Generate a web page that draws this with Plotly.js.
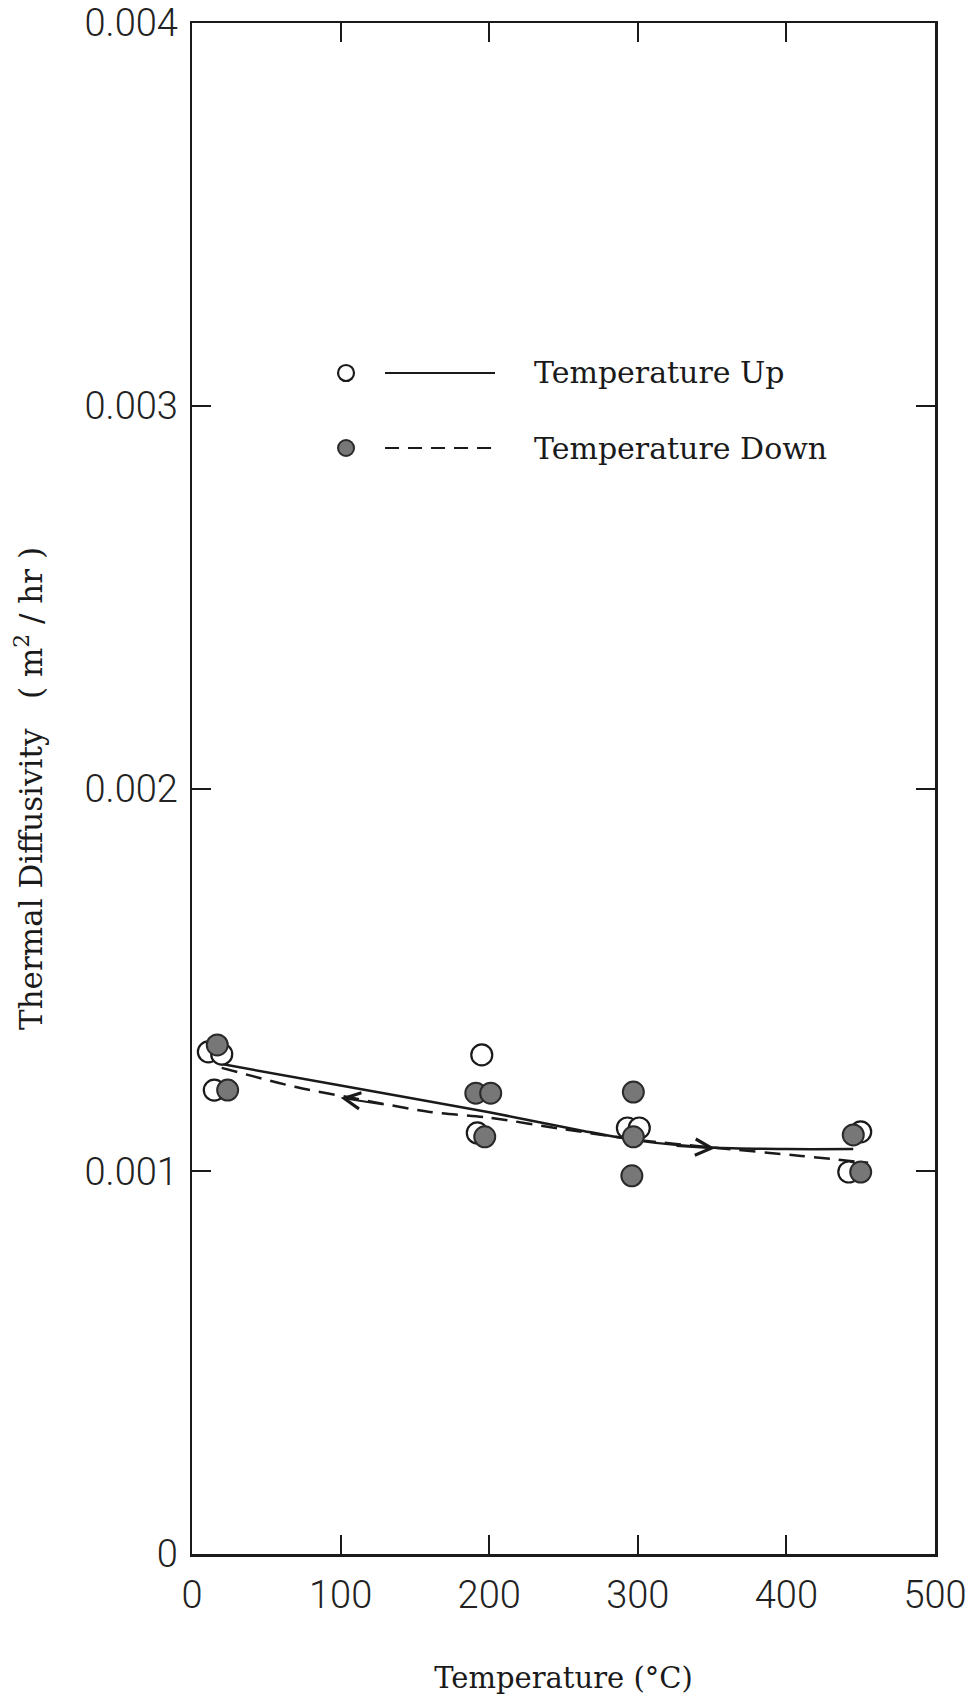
<!DOCTYPE html>
<html>
<head>
<meta charset="utf-8">
<script src="https://cdn.plot.ly/plotly-3.0.1.min.js"></script>
<style>html,body{margin:0;padding:0;background:#fff;}#chart{width:969px;height:1704px;}</style>
</head>
<body>
<div id="chart"></div>
<script>
// Measured points
const upTemp = [11, 20, 15, 195, 192, 293, 301, 442, 450];
const upDiff = [0.001312, 0.001306, 0.001212, 0.001304, 0.00110, 0.001113, 0.001113, 0.000998, 0.001103];
const downTemp = [17, 24, 191, 201, 197, 297, 297, 296, 445, 450];
const downDiff = [0.00133, 0.001212, 0.001204, 0.001204, 0.00109, 0.001207, 0.00109, 0.000988, 0.001095, 0.000998];
// Fitted curves
const upCurveTemp = [20, 100, 200, 260, 300, 350, 400, 445];
const upCurveDiff = [0.00128, 0.001224, 0.001154, 0.001108, 0.00108, 0.001062, 0.001058, 0.001058];
const downCurveTemp = [20, 70, 110, 160, 200, 250, 300, 350, 410, 455];
const downCurveDiff = [0.00127, 0.00122, 0.00119, 0.001155, 0.00114, 0.00111, 0.001082, 0.001062, 0.00104, 0.001022];
// Ticks
const xTickVals = [0, 100, 200, 300, 400, 500];
const xTickText = ['0', '100', '200', '300', '400', '500'];
const yTickVals = [0, 0.001, 0.002, 0.003, 0.004];
const yTickText = ['0', '0.001', '0.002', '0.003', '0.004'];
const seriesNames = ['Temperature Up', 'Temperature Down'];

const ink = '#1a1a1a';
const sansThin = 'Roboto, "Liberation Sans", sans-serif';
const serif = '"DejaVu Serif", "Liberation Serif", serif';

const traces = [
  {x: upCurveTemp, y: upCurveDiff, mode: 'lines', line: {color: ink, width: 2.5, shape: 'spline', smoothing: 0.8}, showlegend: false, hoverinfo: 'skip'},
  {x: downCurveTemp, y: downCurveDiff, mode: 'lines', line: {color: ink, width: 2.5, dash: '16px,9px', shape: 'spline', smoothing: 0.8}, showlegend: false, hoverinfo: 'skip'},
  {x: upTemp, y: upDiff, mode: 'markers', name: seriesNames[0], marker: {symbol: 'circle', size: 21, color: '#ffffff', line: {color: ink, width: 2.2}}, showlegend: false},
  {x: downTemp, y: downDiff, mode: 'markers', name: seriesNames[1], marker: {symbol: 'circle', size: 21, color: '#777777', line: {color: '#2a2a2a', width: 2}}, showlegend: false}
];

// legend positions in paper units (plot area 192..935 x 23..1554)
const legX = 0.2073, legY1 = 0.7714, legY2 = 0.7224;
const legL0 = 0.2598, legL1 = 0.4078, legT = 0.4576;
const layout = {
  width: 969, height: 1704,
  margin: {l: 192, r: 34, t: 23, b: 150},
  paper_bgcolor: '#fff', plot_bgcolor: '#fff',
  showlegend: false,
  xaxis: {
    range: [0, 500], tickvals: xTickVals, ticktext: xTickText,
    ticks: 'inside', ticklen: 19, tickwidth: 2, tickcolor: ink,
    showline: true, linecolor: ink, linewidth: 2.5, mirror: 'allticks',
    showgrid: false, zeroline: false, ticklabeloverflow: 'allow',
    tickfont: {family: sansThin, size: 38, color: '#222', weight: 300}, ticklabelstandoff: 6,
    title: {text: 'Temperature (°C)', font: {family: serif, size: 29, color: ink}, standoff: 52}
  },
  yaxis: {
    range: [0, 0.004], tickvals: yTickVals, ticktext: yTickText,
    ticks: 'inside', ticklen: 19, tickwidth: 2, tickcolor: ink,
    showline: true, linecolor: ink, linewidth: 2.5, mirror: 'allticks',
    showgrid: false, zeroline: false, ticklabeloverflow: 'allow',
    tickfont: {family: sansThin, size: 38, color: '#222', weight: 300}, ticklabelstandoff: 4,
    title: {text: 'Thermal Diffusivity\u00a0\u00a0\u00a0( m<sup>2</sup> / hr )', font: {family: serif, size: 31, color: ink}, standoff: 33}
  },
  shapes: [
    {type: 'circle', xref: 'paper', yref: 'paper', xsizemode: 'pixel', ysizemode: 'pixel', xanchor: legX, yanchor: legY1, x0: -8, x1: 8, y0: -8, y1: 8, line: {color: ink, width: 2.2}, fillcolor: '#fff'},
    {type: 'circle', xref: 'paper', yref: 'paper', xsizemode: 'pixel', ysizemode: 'pixel', xanchor: legX, yanchor: legY2, x0: -8, x1: 8, y0: -8, y1: 8, line: {color: '#2a2a2a', width: 2}, fillcolor: '#777777'},
    {type: 'line', xref: 'paper', yref: 'paper', x0: legL0, x1: legL1, y0: legY1, y1: legY1, line: {color: ink, width: 2.2}},
    {type: 'line', xref: 'paper', yref: 'paper', x0: legL0, x1: legL1, y0: legY2, y1: legY2, line: {color: ink, width: 2.2, dash: '14px,9px'}}
  ],
  annotations: [
    {xref: 'paper', yref: 'paper', x: legT, y: legY1, xanchor: 'left', yanchor: 'middle', text: seriesNames[0], showarrow: false, font: {family: serif, size: 30, color: ink}},
    {xref: 'paper', yref: 'paper', x: legT, y: legY2, xanchor: 'left', yanchor: 'middle', text: seriesNames[1], showarrow: false, font: {family: serif, size: 30, color: ink}},
    {x: 352, y: 0.00106, ax: 325, ay: 0.001066, axref: 'x', ayref: 'y', showarrow: true, arrowhead: 5, arrowsize: 1.6, arrowwidth: 2, arrowcolor: ink, text: ' ', font: {size: 1}},
    {x: 100, y: 0.001192, ax: 130, ay: 0.001174, axref: 'x', ayref: 'y', showarrow: true, arrowhead: 5, arrowsize: 1.6, arrowwidth: 2, arrowcolor: ink, text: ' ', font: {size: 1}}
  ]
};

Plotly.newPlot('chart', traces, layout, {displayModeBar: false, staticPlot: true});
</script>
</body>
</html>
